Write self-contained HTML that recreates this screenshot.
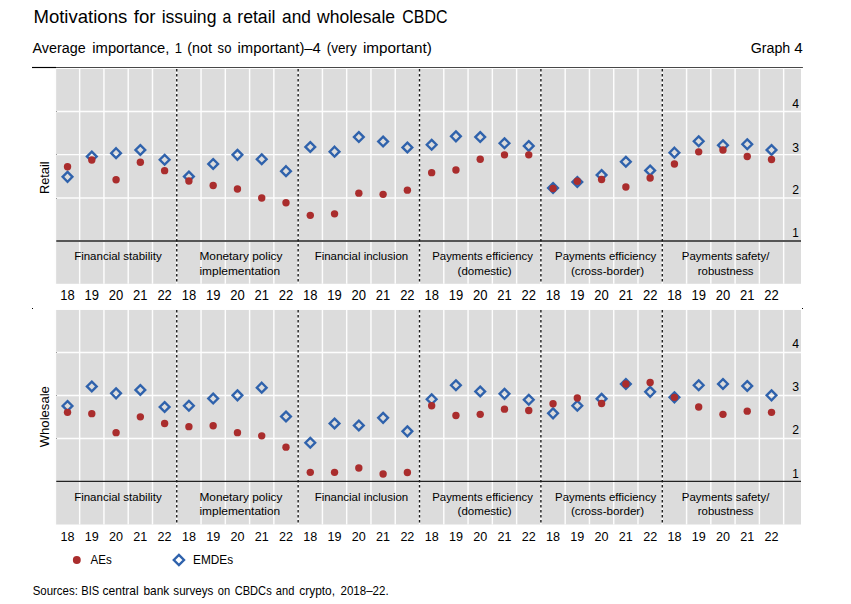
<!DOCTYPE html>
<html><head><meta charset="utf-8"><title>Graph 4</title>
<style>html,body{margin:0;padding:0;background:#fff;}svg{display:block;font-family:"Liberation Sans",sans-serif;}</style>
</head><body>
<svg width="851" height="604" viewBox="0 0 851 604">
<rect x="0" y="0" width="851" height="604" fill="#fff"/>
<text x="33.45" y="22.70" font-size="18.5" textLength="93.79" lengthAdjust="spacingAndGlyphs" fill="#000" >Motivations</text>
<text x="133.75" y="22.70" font-size="18.5" textLength="21.70" lengthAdjust="spacingAndGlyphs" fill="#000" >for</text>
<text x="161.65" y="22.70" font-size="18.5" textLength="54.80" lengthAdjust="spacingAndGlyphs" fill="#000" >issuing</text>
<text x="222.57" y="22.70" font-size="18.5" textLength="8.85" lengthAdjust="spacingAndGlyphs" fill="#000" >a</text>
<text x="237.25" y="22.70" font-size="18.5" textLength="38.29" lengthAdjust="spacingAndGlyphs" fill="#000" >retail</text>
<text x="282.05" y="22.70" font-size="18.5" textLength="28.91" lengthAdjust="spacingAndGlyphs" fill="#000" >and</text>
<text x="316.99" y="22.70" font-size="18.5" textLength="78.07" lengthAdjust="spacingAndGlyphs" fill="#000" >wholesale</text>
<text x="402.25" y="22.70" font-size="18.5" textLength="45.19" lengthAdjust="spacingAndGlyphs" fill="#000" >CBDC</text>
<text x="32.45" y="52.70" font-size="15.2" textLength="53.19" lengthAdjust="spacingAndGlyphs" fill="#000" >Average</text>
<text x="92.35" y="52.70" font-size="15.2" textLength="77.09" lengthAdjust="spacingAndGlyphs" fill="#000" >importance,</text>
<text x="174.87" y="52.70" font-size="15.2" textLength="7.27" lengthAdjust="spacingAndGlyphs" fill="#000" >1</text>
<text x="187.25" y="52.70" font-size="15.2" textLength="24.60" lengthAdjust="spacingAndGlyphs" fill="#000" >(not</text>
<text x="217.60" y="52.70" font-size="15.2" textLength="13.81" lengthAdjust="spacingAndGlyphs" fill="#000" >so</text>
<text x="237.55" y="52.70" font-size="15.2" textLength="83.30" lengthAdjust="spacingAndGlyphs" fill="#000" >important)–4</text>
<text x="326.75" y="52.70" font-size="15.2" textLength="30.00" lengthAdjust="spacingAndGlyphs" fill="#000" >(very</text>
<text x="362.95" y="52.70" font-size="15.2" textLength="68.79" lengthAdjust="spacingAndGlyphs" fill="#000" >important)</text>
<text x="750.65" y="52.60" font-size="15.2" textLength="39.60" lengthAdjust="spacingAndGlyphs" fill="#000" >Graph</text>
<text x="794.35" y="52.60" font-size="15.2" textLength="8.50" lengthAdjust="spacingAndGlyphs" fill="#000" >4</text>
<rect x="56.080000000000005" y="68.95" width="744.92" height="214.85000000000002" fill="#dcdcdc"/>
<line x1="55.38" x2="801.0" y1="111.4" y2="111.4" stroke="#fdfdfd" stroke-width="1.45"/>
<line x1="55.38" x2="801.0" y1="154.6" y2="154.6" stroke="#fdfdfd" stroke-width="1.45"/>
<line x1="55.38" x2="801.0" y1="198.0" y2="198.0" stroke="#fdfdfd" stroke-width="1.45"/>
<line x1="55.38" x2="55.38" y1="68.95" y2="283.8" stroke="#fdfdfd" stroke-width="1.45"/>
<line x1="79.66" x2="79.66" y1="68.95" y2="283.8" stroke="#fdfdfd" stroke-width="1.45"/>
<line x1="103.93" x2="103.93" y1="68.95" y2="283.8" stroke="#fdfdfd" stroke-width="1.45"/>
<line x1="128.21" x2="128.21" y1="68.95" y2="283.8" stroke="#fdfdfd" stroke-width="1.45"/>
<line x1="152.48" x2="152.48" y1="68.95" y2="283.8" stroke="#fdfdfd" stroke-width="1.45"/>
<line x1="176.76" x2="176.76" y1="68.95" y2="283.8" stroke="#fdfdfd" stroke-width="1.45"/>
<line x1="201.04" x2="201.04" y1="68.95" y2="283.8" stroke="#fdfdfd" stroke-width="1.45"/>
<line x1="225.31" x2="225.31" y1="68.95" y2="283.8" stroke="#fdfdfd" stroke-width="1.45"/>
<line x1="249.59" x2="249.59" y1="68.95" y2="283.8" stroke="#fdfdfd" stroke-width="1.45"/>
<line x1="273.86" x2="273.86" y1="68.95" y2="283.8" stroke="#fdfdfd" stroke-width="1.45"/>
<line x1="298.14" x2="298.14" y1="68.95" y2="283.8" stroke="#fdfdfd" stroke-width="1.45"/>
<line x1="322.42" x2="322.42" y1="68.95" y2="283.8" stroke="#fdfdfd" stroke-width="1.45"/>
<line x1="346.69" x2="346.69" y1="68.95" y2="283.8" stroke="#fdfdfd" stroke-width="1.45"/>
<line x1="370.97" x2="370.97" y1="68.95" y2="283.8" stroke="#fdfdfd" stroke-width="1.45"/>
<line x1="395.24" x2="395.24" y1="68.95" y2="283.8" stroke="#fdfdfd" stroke-width="1.45"/>
<line x1="419.52" x2="419.52" y1="68.95" y2="283.8" stroke="#fdfdfd" stroke-width="1.45"/>
<line x1="443.80" x2="443.80" y1="68.95" y2="283.8" stroke="#fdfdfd" stroke-width="1.45"/>
<line x1="468.07" x2="468.07" y1="68.95" y2="283.8" stroke="#fdfdfd" stroke-width="1.45"/>
<line x1="492.35" x2="492.35" y1="68.95" y2="283.8" stroke="#fdfdfd" stroke-width="1.45"/>
<line x1="516.62" x2="516.62" y1="68.95" y2="283.8" stroke="#fdfdfd" stroke-width="1.45"/>
<line x1="540.90" x2="540.90" y1="68.95" y2="283.8" stroke="#fdfdfd" stroke-width="1.45"/>
<line x1="565.18" x2="565.18" y1="68.95" y2="283.8" stroke="#fdfdfd" stroke-width="1.45"/>
<line x1="589.45" x2="589.45" y1="68.95" y2="283.8" stroke="#fdfdfd" stroke-width="1.45"/>
<line x1="613.73" x2="613.73" y1="68.95" y2="283.8" stroke="#fdfdfd" stroke-width="1.45"/>
<line x1="638.00" x2="638.00" y1="68.95" y2="283.8" stroke="#fdfdfd" stroke-width="1.45"/>
<line x1="662.28" x2="662.28" y1="68.95" y2="283.8" stroke="#fdfdfd" stroke-width="1.45"/>
<line x1="686.56" x2="686.56" y1="68.95" y2="283.8" stroke="#fdfdfd" stroke-width="1.45"/>
<line x1="710.83" x2="710.83" y1="68.95" y2="283.8" stroke="#fdfdfd" stroke-width="1.45"/>
<line x1="735.11" x2="735.11" y1="68.95" y2="283.8" stroke="#fdfdfd" stroke-width="1.45"/>
<line x1="759.38" x2="759.38" y1="68.95" y2="283.8" stroke="#fdfdfd" stroke-width="1.45"/>
<line x1="783.66" x2="783.66" y1="68.95" y2="283.8" stroke="#fdfdfd" stroke-width="1.45"/>
<rect x="56" y="111" width="1" height="1" fill="#9a9a9a"/>
<rect x="56" y="154" width="1" height="1" fill="#9a9a9a"/>
<rect x="56" y="198" width="1" height="1" fill="#9a9a9a"/>
<line x1="56.28" x2="801.0" y1="241.0" y2="241.0" stroke="#555" stroke-width="2.1"/>
<line x1="176.76" x2="176.76" y1="68.9" y2="284.1" stroke="#1a1a1a" stroke-width="1.4" stroke-dasharray="2.7 2.3"/>
<line x1="298.14" x2="298.14" y1="68.9" y2="284.1" stroke="#1a1a1a" stroke-width="1.4" stroke-dasharray="2.7 2.3"/>
<line x1="419.52" x2="419.52" y1="68.9" y2="284.1" stroke="#1a1a1a" stroke-width="1.4" stroke-dasharray="2.7 2.3"/>
<line x1="540.90" x2="540.90" y1="68.9" y2="284.1" stroke="#1a1a1a" stroke-width="1.4" stroke-dasharray="2.7 2.3"/>
<line x1="662.28" x2="662.28" y1="68.9" y2="284.1" stroke="#1a1a1a" stroke-width="1.4" stroke-dasharray="2.7 2.3"/>
<text x="792.35" y="108.20" font-size="13.6" textLength="6.80" lengthAdjust="spacingAndGlyphs" fill="#000" >4</text>
<text x="792.35" y="151.60" font-size="13.6" textLength="6.80" lengthAdjust="spacingAndGlyphs" fill="#000" >3</text>
<text x="792.35" y="193.80" font-size="13.6" textLength="6.80" lengthAdjust="spacingAndGlyphs" fill="#000" >2</text>
<text x="792.15" y="237.20" font-size="13.6" textLength="6.50" lengthAdjust="spacingAndGlyphs" fill="#000" >1</text>
<text x="74.15" y="260.20" font-size="11.5" textLength="87.60" lengthAdjust="spacingAndGlyphs" fill="#000" >Financial stability</text>
<text x="199.45" y="260.20" font-size="11.5" textLength="83.00" lengthAdjust="spacingAndGlyphs" fill="#000" >Monetary policy</text>
<text x="199.45" y="274.80" font-size="11.5" textLength="80.80" lengthAdjust="spacingAndGlyphs" fill="#000" >implementation</text>
<text x="314.65" y="260.20" font-size="11.5" textLength="93.60" lengthAdjust="spacingAndGlyphs" fill="#000" >Financial inclusion</text>
<text x="432.25" y="260.20" font-size="11.5" textLength="100.69" lengthAdjust="spacingAndGlyphs" fill="#000" >Payments efficiency</text>
<text x="457.55" y="274.80" font-size="11.5" textLength="53.99" lengthAdjust="spacingAndGlyphs" fill="#000" >(domestic)</text>
<text x="555.05" y="260.20" font-size="11.5" textLength="101.29" lengthAdjust="spacingAndGlyphs" fill="#000" >Payments efficiency</text>
<text x="570.95" y="274.80" font-size="11.5" textLength="73.20" lengthAdjust="spacingAndGlyphs" fill="#000" >(cross-border)</text>
<text x="681.85" y="260.20" font-size="11.5" textLength="87.50" lengthAdjust="spacingAndGlyphs" fill="#000" >Payments safety/</text>
<text x="697.75" y="274.80" font-size="11.5" textLength="55.80" lengthAdjust="spacingAndGlyphs" fill="#000" >robustness</text>
<text x="60.28" y="299.8" font-size="13.85" textLength="14.48" lengthAdjust="spacingAndGlyphs" fill="#000">18</text>
<text x="84.56" y="299.8" font-size="13.85" textLength="14.48" lengthAdjust="spacingAndGlyphs" fill="#000">19</text>
<text x="108.83" y="299.8" font-size="13.85" textLength="14.48" lengthAdjust="spacingAndGlyphs" fill="#000">20</text>
<text x="133.11" y="299.8" font-size="13.85" textLength="14.48" lengthAdjust="spacingAndGlyphs" fill="#000">21</text>
<text x="157.38" y="299.8" font-size="13.85" textLength="14.48" lengthAdjust="spacingAndGlyphs" fill="#000">22</text>
<text x="181.66" y="299.8" font-size="13.85" textLength="14.48" lengthAdjust="spacingAndGlyphs" fill="#000">18</text>
<text x="205.94" y="299.8" font-size="13.85" textLength="14.48" lengthAdjust="spacingAndGlyphs" fill="#000">19</text>
<text x="230.21" y="299.8" font-size="13.85" textLength="14.48" lengthAdjust="spacingAndGlyphs" fill="#000">20</text>
<text x="254.49" y="299.8" font-size="13.85" textLength="14.48" lengthAdjust="spacingAndGlyphs" fill="#000">21</text>
<text x="278.76" y="299.8" font-size="13.85" textLength="14.48" lengthAdjust="spacingAndGlyphs" fill="#000">22</text>
<text x="303.04" y="299.8" font-size="13.85" textLength="14.48" lengthAdjust="spacingAndGlyphs" fill="#000">18</text>
<text x="327.32" y="299.8" font-size="13.85" textLength="14.48" lengthAdjust="spacingAndGlyphs" fill="#000">19</text>
<text x="351.59" y="299.8" font-size="13.85" textLength="14.48" lengthAdjust="spacingAndGlyphs" fill="#000">20</text>
<text x="375.87" y="299.8" font-size="13.85" textLength="14.48" lengthAdjust="spacingAndGlyphs" fill="#000">21</text>
<text x="400.14" y="299.8" font-size="13.85" textLength="14.48" lengthAdjust="spacingAndGlyphs" fill="#000">22</text>
<text x="424.42" y="299.8" font-size="13.85" textLength="14.48" lengthAdjust="spacingAndGlyphs" fill="#000">18</text>
<text x="448.70" y="299.8" font-size="13.85" textLength="14.48" lengthAdjust="spacingAndGlyphs" fill="#000">19</text>
<text x="472.97" y="299.8" font-size="13.85" textLength="14.48" lengthAdjust="spacingAndGlyphs" fill="#000">20</text>
<text x="497.25" y="299.8" font-size="13.85" textLength="14.48" lengthAdjust="spacingAndGlyphs" fill="#000">21</text>
<text x="521.52" y="299.8" font-size="13.85" textLength="14.48" lengthAdjust="spacingAndGlyphs" fill="#000">22</text>
<text x="545.80" y="299.8" font-size="13.85" textLength="14.48" lengthAdjust="spacingAndGlyphs" fill="#000">18</text>
<text x="570.08" y="299.8" font-size="13.85" textLength="14.48" lengthAdjust="spacingAndGlyphs" fill="#000">19</text>
<text x="594.35" y="299.8" font-size="13.85" textLength="14.48" lengthAdjust="spacingAndGlyphs" fill="#000">20</text>
<text x="618.63" y="299.8" font-size="13.85" textLength="14.48" lengthAdjust="spacingAndGlyphs" fill="#000">21</text>
<text x="642.90" y="299.8" font-size="13.85" textLength="14.48" lengthAdjust="spacingAndGlyphs" fill="#000">22</text>
<text x="667.18" y="299.8" font-size="13.85" textLength="14.48" lengthAdjust="spacingAndGlyphs" fill="#000">18</text>
<text x="691.46" y="299.8" font-size="13.85" textLength="14.48" lengthAdjust="spacingAndGlyphs" fill="#000">19</text>
<text x="715.73" y="299.8" font-size="13.85" textLength="14.48" lengthAdjust="spacingAndGlyphs" fill="#000">20</text>
<text x="740.01" y="299.8" font-size="13.85" textLength="14.48" lengthAdjust="spacingAndGlyphs" fill="#000">21</text>
<text x="764.28" y="299.8" font-size="13.85" textLength="14.48" lengthAdjust="spacingAndGlyphs" fill="#000">22</text>
<path d="M67.52 171.95L72.42 176.85L67.52 181.75L62.62 176.85Z" fill="none" stroke="#2f62ac" stroke-width="2.35"/>
<path d="M91.79 151.65L96.69 156.55L91.79 161.45L86.89 156.55Z" fill="none" stroke="#2f62ac" stroke-width="2.35"/>
<path d="M116.07 148.25L120.97 153.15L116.07 158.05L111.17 153.15Z" fill="none" stroke="#2f62ac" stroke-width="2.35"/>
<path d="M140.35 145.05L145.25 149.95L140.35 154.85L135.45 149.95Z" fill="none" stroke="#2f62ac" stroke-width="2.35"/>
<path d="M164.62 154.85L169.52 159.75L164.62 164.65L159.72 159.75Z" fill="none" stroke="#2f62ac" stroke-width="2.35"/>
<path d="M188.90 171.65L193.80 176.55L188.90 181.45L184.00 176.55Z" fill="none" stroke="#2f62ac" stroke-width="2.35"/>
<path d="M213.17 159.05L218.07 163.95L213.17 168.85L208.27 163.95Z" fill="none" stroke="#2f62ac" stroke-width="2.35"/>
<path d="M237.45 149.95L242.35 154.85L237.45 159.75L232.55 154.85Z" fill="none" stroke="#2f62ac" stroke-width="2.35"/>
<path d="M261.73 154.35L266.63 159.25L261.73 164.15L256.83 159.25Z" fill="none" stroke="#2f62ac" stroke-width="2.35"/>
<path d="M286.00 166.25L290.90 171.15L286.00 176.05L281.10 171.15Z" fill="none" stroke="#2f62ac" stroke-width="2.35"/>
<path d="M310.28 142.05L315.18 146.95L310.28 151.85L305.38 146.95Z" fill="none" stroke="#2f62ac" stroke-width="2.35"/>
<path d="M334.55 146.75L339.45 151.65L334.55 156.55L329.65 151.65Z" fill="none" stroke="#2f62ac" stroke-width="2.35"/>
<path d="M358.83 132.15L363.73 137.05L358.83 141.95L353.93 137.05Z" fill="none" stroke="#2f62ac" stroke-width="2.35"/>
<path d="M383.11 136.65L388.01 141.55L383.11 146.45L378.21 141.55Z" fill="none" stroke="#2f62ac" stroke-width="2.35"/>
<path d="M407.38 142.55L412.28 147.45L407.38 152.35L402.48 147.45Z" fill="none" stroke="#2f62ac" stroke-width="2.35"/>
<path d="M431.66 139.85L436.56 144.75L431.66 149.65L426.76 144.75Z" fill="none" stroke="#2f62ac" stroke-width="2.35"/>
<path d="M455.93 131.45L460.83 136.35L455.93 141.25L451.03 136.35Z" fill="none" stroke="#2f62ac" stroke-width="2.35"/>
<path d="M480.21 132.15L485.11 137.05L480.21 141.95L475.31 137.05Z" fill="none" stroke="#2f62ac" stroke-width="2.35"/>
<path d="M504.49 138.35L509.39 143.25L504.49 148.15L499.59 143.25Z" fill="none" stroke="#2f62ac" stroke-width="2.35"/>
<path d="M528.76 141.05L533.66 145.95L528.76 150.85L523.86 145.95Z" fill="none" stroke="#2f62ac" stroke-width="2.35"/>
<path d="M553.04 183.05L557.94 187.95L553.04 192.85L548.14 187.95Z" fill="none" stroke="#2f62ac" stroke-width="2.35"/>
<path d="M577.31 177.15L582.21 182.05L577.31 186.95L572.41 182.05Z" fill="none" stroke="#2f62ac" stroke-width="2.35"/>
<path d="M601.59 170.15L606.49 175.05L601.59 179.95L596.69 175.05Z" fill="none" stroke="#2f62ac" stroke-width="2.35"/>
<path d="M625.87 156.85L630.77 161.75L625.87 166.65L620.97 161.75Z" fill="none" stroke="#2f62ac" stroke-width="2.35"/>
<path d="M650.14 165.55L655.04 170.45L650.14 175.35L645.24 170.45Z" fill="none" stroke="#2f62ac" stroke-width="2.35"/>
<path d="M674.42 147.75L679.32 152.65L674.42 157.55L669.52 152.65Z" fill="none" stroke="#2f62ac" stroke-width="2.35"/>
<path d="M698.69 136.35L703.59 141.25L698.69 146.15L693.79 141.25Z" fill="none" stroke="#2f62ac" stroke-width="2.35"/>
<path d="M722.97 140.35L727.87 145.25L722.97 150.15L718.07 145.25Z" fill="none" stroke="#2f62ac" stroke-width="2.35"/>
<path d="M747.25 139.35L752.15 144.25L747.25 149.15L742.35 144.25Z" fill="none" stroke="#2f62ac" stroke-width="2.35"/>
<path d="M771.52 145.05L776.42 149.95L771.52 154.85L766.62 149.95Z" fill="none" stroke="#2f62ac" stroke-width="2.35"/>
<circle cx="67.52" cy="166.75" r="3.7" fill="#aa2d2d"/>
<circle cx="91.79" cy="160.05" r="3.7" fill="#aa2d2d"/>
<circle cx="116.07" cy="179.75" r="3.7" fill="#aa2d2d"/>
<circle cx="140.35" cy="162.25" r="3.7" fill="#aa2d2d"/>
<circle cx="164.62" cy="170.65" r="3.7" fill="#aa2d2d"/>
<circle cx="188.90" cy="181.05" r="3.7" fill="#aa2d2d"/>
<circle cx="213.17" cy="185.45" r="3.7" fill="#aa2d2d"/>
<circle cx="237.45" cy="188.95" r="3.7" fill="#aa2d2d"/>
<circle cx="261.73" cy="198.05" r="3.7" fill="#aa2d2d"/>
<circle cx="286.00" cy="202.75" r="3.7" fill="#aa2d2d"/>
<circle cx="310.28" cy="215.35" r="3.7" fill="#aa2d2d"/>
<circle cx="334.55" cy="213.85" r="3.7" fill="#aa2d2d"/>
<circle cx="358.83" cy="193.15" r="3.7" fill="#aa2d2d"/>
<circle cx="383.11" cy="194.35" r="3.7" fill="#aa2d2d"/>
<circle cx="407.38" cy="190.15" r="3.7" fill="#aa2d2d"/>
<circle cx="431.66" cy="172.65" r="3.7" fill="#aa2d2d"/>
<circle cx="455.93" cy="169.95" r="3.7" fill="#aa2d2d"/>
<circle cx="480.21" cy="159.25" r="3.7" fill="#aa2d2d"/>
<circle cx="504.49" cy="154.85" r="3.7" fill="#aa2d2d"/>
<circle cx="528.76" cy="154.85" r="3.7" fill="#aa2d2d"/>
<circle cx="553.04" cy="188.45" r="3.7" fill="#aa2d2d"/>
<circle cx="577.31" cy="181.25" r="3.7" fill="#aa2d2d"/>
<circle cx="601.59" cy="179.55" r="3.7" fill="#aa2d2d"/>
<circle cx="625.87" cy="186.95" r="3.7" fill="#aa2d2d"/>
<circle cx="650.14" cy="178.05" r="3.7" fill="#aa2d2d"/>
<circle cx="674.42" cy="163.95" r="3.7" fill="#aa2d2d"/>
<circle cx="698.69" cy="151.85" r="3.7" fill="#aa2d2d"/>
<circle cx="722.97" cy="149.95" r="3.7" fill="#aa2d2d"/>
<circle cx="747.25" cy="156.55" r="3.7" fill="#aa2d2d"/>
<circle cx="771.52" cy="159.55" r="3.7" fill="#aa2d2d"/>
<rect x="56.080000000000005" y="309.95" width="744.92" height="214.55" fill="#dcdcdc"/>
<line x1="55.38" x2="801.0" y1="352.4" y2="352.4" stroke="#fdfdfd" stroke-width="1.45"/>
<line x1="55.38" x2="801.0" y1="395.5" y2="395.5" stroke="#fdfdfd" stroke-width="1.45"/>
<line x1="55.38" x2="801.0" y1="438.5" y2="438.5" stroke="#fdfdfd" stroke-width="1.45"/>
<line x1="55.38" x2="55.38" y1="309.95" y2="524.5" stroke="#fdfdfd" stroke-width="1.45"/>
<line x1="79.66" x2="79.66" y1="309.95" y2="524.5" stroke="#fdfdfd" stroke-width="1.45"/>
<line x1="103.93" x2="103.93" y1="309.95" y2="524.5" stroke="#fdfdfd" stroke-width="1.45"/>
<line x1="128.21" x2="128.21" y1="309.95" y2="524.5" stroke="#fdfdfd" stroke-width="1.45"/>
<line x1="152.48" x2="152.48" y1="309.95" y2="524.5" stroke="#fdfdfd" stroke-width="1.45"/>
<line x1="176.76" x2="176.76" y1="309.95" y2="524.5" stroke="#fdfdfd" stroke-width="1.45"/>
<line x1="201.04" x2="201.04" y1="309.95" y2="524.5" stroke="#fdfdfd" stroke-width="1.45"/>
<line x1="225.31" x2="225.31" y1="309.95" y2="524.5" stroke="#fdfdfd" stroke-width="1.45"/>
<line x1="249.59" x2="249.59" y1="309.95" y2="524.5" stroke="#fdfdfd" stroke-width="1.45"/>
<line x1="273.86" x2="273.86" y1="309.95" y2="524.5" stroke="#fdfdfd" stroke-width="1.45"/>
<line x1="298.14" x2="298.14" y1="309.95" y2="524.5" stroke="#fdfdfd" stroke-width="1.45"/>
<line x1="322.42" x2="322.42" y1="309.95" y2="524.5" stroke="#fdfdfd" stroke-width="1.45"/>
<line x1="346.69" x2="346.69" y1="309.95" y2="524.5" stroke="#fdfdfd" stroke-width="1.45"/>
<line x1="370.97" x2="370.97" y1="309.95" y2="524.5" stroke="#fdfdfd" stroke-width="1.45"/>
<line x1="395.24" x2="395.24" y1="309.95" y2="524.5" stroke="#fdfdfd" stroke-width="1.45"/>
<line x1="419.52" x2="419.52" y1="309.95" y2="524.5" stroke="#fdfdfd" stroke-width="1.45"/>
<line x1="443.80" x2="443.80" y1="309.95" y2="524.5" stroke="#fdfdfd" stroke-width="1.45"/>
<line x1="468.07" x2="468.07" y1="309.95" y2="524.5" stroke="#fdfdfd" stroke-width="1.45"/>
<line x1="492.35" x2="492.35" y1="309.95" y2="524.5" stroke="#fdfdfd" stroke-width="1.45"/>
<line x1="516.62" x2="516.62" y1="309.95" y2="524.5" stroke="#fdfdfd" stroke-width="1.45"/>
<line x1="540.90" x2="540.90" y1="309.95" y2="524.5" stroke="#fdfdfd" stroke-width="1.45"/>
<line x1="565.18" x2="565.18" y1="309.95" y2="524.5" stroke="#fdfdfd" stroke-width="1.45"/>
<line x1="589.45" x2="589.45" y1="309.95" y2="524.5" stroke="#fdfdfd" stroke-width="1.45"/>
<line x1="613.73" x2="613.73" y1="309.95" y2="524.5" stroke="#fdfdfd" stroke-width="1.45"/>
<line x1="638.00" x2="638.00" y1="309.95" y2="524.5" stroke="#fdfdfd" stroke-width="1.45"/>
<line x1="662.28" x2="662.28" y1="309.95" y2="524.5" stroke="#fdfdfd" stroke-width="1.45"/>
<line x1="686.56" x2="686.56" y1="309.95" y2="524.5" stroke="#fdfdfd" stroke-width="1.45"/>
<line x1="710.83" x2="710.83" y1="309.95" y2="524.5" stroke="#fdfdfd" stroke-width="1.45"/>
<line x1="735.11" x2="735.11" y1="309.95" y2="524.5" stroke="#fdfdfd" stroke-width="1.45"/>
<line x1="759.38" x2="759.38" y1="309.95" y2="524.5" stroke="#fdfdfd" stroke-width="1.45"/>
<line x1="783.66" x2="783.66" y1="309.95" y2="524.5" stroke="#fdfdfd" stroke-width="1.45"/>
<rect x="56" y="352" width="1" height="1" fill="#9a9a9a"/>
<rect x="56" y="395" width="1" height="1" fill="#9a9a9a"/>
<rect x="56" y="438" width="1" height="1" fill="#9a9a9a"/>
<line x1="56.28" x2="801.0" y1="481.4" y2="481.4" stroke="#222" stroke-width="1.4"/>
<line x1="176.76" x2="176.76" y1="309.9" y2="524.8" stroke="#1a1a1a" stroke-width="1.4" stroke-dasharray="2.7 2.3"/>
<line x1="298.14" x2="298.14" y1="309.9" y2="524.8" stroke="#1a1a1a" stroke-width="1.4" stroke-dasharray="2.7 2.3"/>
<line x1="419.52" x2="419.52" y1="309.9" y2="524.8" stroke="#1a1a1a" stroke-width="1.4" stroke-dasharray="2.7 2.3"/>
<line x1="540.90" x2="540.90" y1="309.9" y2="524.8" stroke="#1a1a1a" stroke-width="1.4" stroke-dasharray="2.7 2.3"/>
<line x1="662.28" x2="662.28" y1="309.9" y2="524.8" stroke="#1a1a1a" stroke-width="1.4" stroke-dasharray="2.7 2.3"/>
<text x="792.35" y="348.20" font-size="13.6" textLength="6.80" lengthAdjust="spacingAndGlyphs" fill="#000" >4</text>
<text x="792.35" y="391.30" font-size="13.6" textLength="6.80" lengthAdjust="spacingAndGlyphs" fill="#000" >3</text>
<text x="792.35" y="434.30" font-size="13.6" textLength="6.80" lengthAdjust="spacingAndGlyphs" fill="#000" >2</text>
<text x="792.15" y="477.60" font-size="13.6" textLength="6.50" lengthAdjust="spacingAndGlyphs" fill="#000" >1</text>
<text x="74.15" y="501.40" font-size="11.5" textLength="87.60" lengthAdjust="spacingAndGlyphs" fill="#000" >Financial stability</text>
<text x="199.45" y="501.40" font-size="11.5" textLength="83.00" lengthAdjust="spacingAndGlyphs" fill="#000" >Monetary policy</text>
<text x="199.45" y="515.10" font-size="11.5" textLength="80.80" lengthAdjust="spacingAndGlyphs" fill="#000" >implementation</text>
<text x="314.65" y="501.40" font-size="11.5" textLength="93.60" lengthAdjust="spacingAndGlyphs" fill="#000" >Financial inclusion</text>
<text x="432.25" y="501.40" font-size="11.5" textLength="100.69" lengthAdjust="spacingAndGlyphs" fill="#000" >Payments efficiency</text>
<text x="457.55" y="515.10" font-size="11.5" textLength="53.99" lengthAdjust="spacingAndGlyphs" fill="#000" >(domestic)</text>
<text x="555.05" y="501.40" font-size="11.5" textLength="101.29" lengthAdjust="spacingAndGlyphs" fill="#000" >Payments efficiency</text>
<text x="570.95" y="515.10" font-size="11.5" textLength="73.20" lengthAdjust="spacingAndGlyphs" fill="#000" >(cross-border)</text>
<text x="681.85" y="501.40" font-size="11.5" textLength="87.50" lengthAdjust="spacingAndGlyphs" fill="#000" >Payments safety/</text>
<text x="697.75" y="515.10" font-size="11.5" textLength="55.80" lengthAdjust="spacingAndGlyphs" fill="#000" >robustness</text>
<text x="60.51" y="540.9" font-size="13.4" textLength="14.01" lengthAdjust="spacingAndGlyphs" fill="#000">18</text>
<text x="84.79" y="540.9" font-size="13.4" textLength="14.01" lengthAdjust="spacingAndGlyphs" fill="#000">19</text>
<text x="109.07" y="540.9" font-size="13.4" textLength="14.01" lengthAdjust="spacingAndGlyphs" fill="#000">20</text>
<text x="133.34" y="540.9" font-size="13.4" textLength="14.01" lengthAdjust="spacingAndGlyphs" fill="#000">21</text>
<text x="157.62" y="540.9" font-size="13.4" textLength="14.01" lengthAdjust="spacingAndGlyphs" fill="#000">22</text>
<text x="181.89" y="540.9" font-size="13.4" textLength="14.01" lengthAdjust="spacingAndGlyphs" fill="#000">18</text>
<text x="206.17" y="540.9" font-size="13.4" textLength="14.01" lengthAdjust="spacingAndGlyphs" fill="#000">19</text>
<text x="230.45" y="540.9" font-size="13.4" textLength="14.01" lengthAdjust="spacingAndGlyphs" fill="#000">20</text>
<text x="254.72" y="540.9" font-size="13.4" textLength="14.01" lengthAdjust="spacingAndGlyphs" fill="#000">21</text>
<text x="279.00" y="540.9" font-size="13.4" textLength="14.01" lengthAdjust="spacingAndGlyphs" fill="#000">22</text>
<text x="303.27" y="540.9" font-size="13.4" textLength="14.01" lengthAdjust="spacingAndGlyphs" fill="#000">18</text>
<text x="327.55" y="540.9" font-size="13.4" textLength="14.01" lengthAdjust="spacingAndGlyphs" fill="#000">19</text>
<text x="351.83" y="540.9" font-size="13.4" textLength="14.01" lengthAdjust="spacingAndGlyphs" fill="#000">20</text>
<text x="376.10" y="540.9" font-size="13.4" textLength="14.01" lengthAdjust="spacingAndGlyphs" fill="#000">21</text>
<text x="400.38" y="540.9" font-size="13.4" textLength="14.01" lengthAdjust="spacingAndGlyphs" fill="#000">22</text>
<text x="424.65" y="540.9" font-size="13.4" textLength="14.01" lengthAdjust="spacingAndGlyphs" fill="#000">18</text>
<text x="448.93" y="540.9" font-size="13.4" textLength="14.01" lengthAdjust="spacingAndGlyphs" fill="#000">19</text>
<text x="473.21" y="540.9" font-size="13.4" textLength="14.01" lengthAdjust="spacingAndGlyphs" fill="#000">20</text>
<text x="497.48" y="540.9" font-size="13.4" textLength="14.01" lengthAdjust="spacingAndGlyphs" fill="#000">21</text>
<text x="521.76" y="540.9" font-size="13.4" textLength="14.01" lengthAdjust="spacingAndGlyphs" fill="#000">22</text>
<text x="546.03" y="540.9" font-size="13.4" textLength="14.01" lengthAdjust="spacingAndGlyphs" fill="#000">18</text>
<text x="570.31" y="540.9" font-size="13.4" textLength="14.01" lengthAdjust="spacingAndGlyphs" fill="#000">19</text>
<text x="594.59" y="540.9" font-size="13.4" textLength="14.01" lengthAdjust="spacingAndGlyphs" fill="#000">20</text>
<text x="618.86" y="540.9" font-size="13.4" textLength="14.01" lengthAdjust="spacingAndGlyphs" fill="#000">21</text>
<text x="643.14" y="540.9" font-size="13.4" textLength="14.01" lengthAdjust="spacingAndGlyphs" fill="#000">22</text>
<text x="667.41" y="540.9" font-size="13.4" textLength="14.01" lengthAdjust="spacingAndGlyphs" fill="#000">18</text>
<text x="691.69" y="540.9" font-size="13.4" textLength="14.01" lengthAdjust="spacingAndGlyphs" fill="#000">19</text>
<text x="715.97" y="540.9" font-size="13.4" textLength="14.01" lengthAdjust="spacingAndGlyphs" fill="#000">20</text>
<text x="740.24" y="540.9" font-size="13.4" textLength="14.01" lengthAdjust="spacingAndGlyphs" fill="#000">21</text>
<text x="764.52" y="540.9" font-size="13.4" textLength="14.01" lengthAdjust="spacingAndGlyphs" fill="#000">22</text>
<path d="M67.52 401.05L72.42 405.95L67.52 410.85L62.62 405.95Z" fill="none" stroke="#2f62ac" stroke-width="2.35"/>
<path d="M91.79 381.55L96.69 386.45L91.79 391.35L86.89 386.45Z" fill="none" stroke="#2f62ac" stroke-width="2.35"/>
<path d="M116.07 388.45L120.97 393.35L116.07 398.25L111.17 393.35Z" fill="none" stroke="#2f62ac" stroke-width="2.35"/>
<path d="M140.35 385.05L145.25 389.95L140.35 394.85L135.45 389.95Z" fill="none" stroke="#2f62ac" stroke-width="2.35"/>
<path d="M164.62 402.05L169.52 406.95L164.62 411.85L159.72 406.95Z" fill="none" stroke="#2f62ac" stroke-width="2.35"/>
<path d="M188.90 400.85L193.80 405.75L188.90 410.65L184.00 405.75Z" fill="none" stroke="#2f62ac" stroke-width="2.35"/>
<path d="M213.17 393.65L218.07 398.55L213.17 403.45L208.27 398.55Z" fill="none" stroke="#2f62ac" stroke-width="2.35"/>
<path d="M237.45 390.45L242.35 395.35L237.45 400.25L232.55 395.35Z" fill="none" stroke="#2f62ac" stroke-width="2.35"/>
<path d="M261.73 382.75L266.63 387.65L261.73 392.55L256.83 387.65Z" fill="none" stroke="#2f62ac" stroke-width="2.35"/>
<path d="M286.00 411.65L290.90 416.55L286.00 421.45L281.10 416.55Z" fill="none" stroke="#2f62ac" stroke-width="2.35"/>
<path d="M310.28 437.85L315.18 442.75L310.28 447.65L305.38 442.75Z" fill="none" stroke="#2f62ac" stroke-width="2.35"/>
<path d="M334.55 418.55L339.45 423.45L334.55 428.35L329.65 423.45Z" fill="none" stroke="#2f62ac" stroke-width="2.35"/>
<path d="M358.83 420.55L363.73 425.45L358.83 430.35L353.93 425.45Z" fill="none" stroke="#2f62ac" stroke-width="2.35"/>
<path d="M383.11 412.95L388.01 417.85L383.11 422.75L378.21 417.85Z" fill="none" stroke="#2f62ac" stroke-width="2.35"/>
<path d="M407.38 426.45L412.28 431.35L407.38 436.25L402.48 431.35Z" fill="none" stroke="#2f62ac" stroke-width="2.35"/>
<path d="M431.66 394.35L436.56 399.25L431.66 404.15L426.76 399.25Z" fill="none" stroke="#2f62ac" stroke-width="2.35"/>
<path d="M455.93 380.35L460.83 385.25L455.93 390.15L451.03 385.25Z" fill="none" stroke="#2f62ac" stroke-width="2.35"/>
<path d="M480.21 386.55L485.11 391.45L480.21 396.35L475.31 391.45Z" fill="none" stroke="#2f62ac" stroke-width="2.35"/>
<path d="M504.49 388.95L509.39 393.85L504.49 398.75L499.59 393.85Z" fill="none" stroke="#2f62ac" stroke-width="2.35"/>
<path d="M528.76 394.85L533.66 399.75L528.76 404.65L523.86 399.75Z" fill="none" stroke="#2f62ac" stroke-width="2.35"/>
<path d="M553.04 408.45L557.94 413.35L553.04 418.25L548.14 413.35Z" fill="none" stroke="#2f62ac" stroke-width="2.35"/>
<path d="M577.31 400.85L582.21 405.75L577.31 410.65L572.41 405.75Z" fill="none" stroke="#2f62ac" stroke-width="2.35"/>
<path d="M601.59 393.95L606.49 398.85L601.59 403.75L596.69 398.85Z" fill="none" stroke="#2f62ac" stroke-width="2.35"/>
<path d="M625.87 379.05L630.77 383.95L625.87 388.85L620.97 383.95Z" fill="none" stroke="#2f62ac" stroke-width="2.35"/>
<path d="M650.14 386.95L655.04 391.85L650.14 396.75L645.24 391.85Z" fill="none" stroke="#2f62ac" stroke-width="2.35"/>
<path d="M674.42 392.45L679.32 397.35L674.42 402.25L669.52 397.35Z" fill="none" stroke="#2f62ac" stroke-width="2.35"/>
<path d="M698.69 380.35L703.59 385.25L698.69 390.15L693.79 385.25Z" fill="none" stroke="#2f62ac" stroke-width="2.35"/>
<path d="M722.97 379.05L727.87 383.95L722.97 388.85L718.07 383.95Z" fill="none" stroke="#2f62ac" stroke-width="2.35"/>
<path d="M747.25 381.05L752.15 385.95L747.25 390.85L742.35 385.95Z" fill="none" stroke="#2f62ac" stroke-width="2.35"/>
<path d="M771.52 390.45L776.42 395.35L771.52 400.25L766.62 395.35Z" fill="none" stroke="#2f62ac" stroke-width="2.35"/>
<circle cx="67.52" cy="412.35" r="3.7" fill="#aa2d2d"/>
<circle cx="91.79" cy="413.65" r="3.7" fill="#aa2d2d"/>
<circle cx="116.07" cy="432.65" r="3.7" fill="#aa2d2d"/>
<circle cx="140.35" cy="416.85" r="3.7" fill="#aa2d2d"/>
<circle cx="164.62" cy="423.45" r="3.7" fill="#aa2d2d"/>
<circle cx="188.90" cy="426.65" r="3.7" fill="#aa2d2d"/>
<circle cx="213.17" cy="425.75" r="3.7" fill="#aa2d2d"/>
<circle cx="237.45" cy="432.65" r="3.7" fill="#aa2d2d"/>
<circle cx="261.73" cy="435.85" r="3.7" fill="#aa2d2d"/>
<circle cx="286.00" cy="447.15" r="3.7" fill="#aa2d2d"/>
<circle cx="310.28" cy="472.35" r="3.7" fill="#aa2d2d"/>
<circle cx="334.55" cy="472.35" r="3.7" fill="#aa2d2d"/>
<circle cx="358.83" cy="467.95" r="3.7" fill="#aa2d2d"/>
<circle cx="383.11" cy="474.05" r="3.7" fill="#aa2d2d"/>
<circle cx="407.38" cy="472.55" r="3.7" fill="#aa2d2d"/>
<circle cx="431.66" cy="405.75" r="3.7" fill="#aa2d2d"/>
<circle cx="455.93" cy="415.55" r="3.7" fill="#aa2d2d"/>
<circle cx="480.21" cy="414.35" r="3.7" fill="#aa2d2d"/>
<circle cx="504.49" cy="409.15" r="3.7" fill="#aa2d2d"/>
<circle cx="528.76" cy="410.45" r="3.7" fill="#aa2d2d"/>
<circle cx="553.04" cy="403.75" r="3.7" fill="#aa2d2d"/>
<circle cx="577.31" cy="398.05" r="3.7" fill="#aa2d2d"/>
<circle cx="601.59" cy="403.45" r="3.7" fill="#aa2d2d"/>
<circle cx="625.87" cy="383.95" r="3.7" fill="#aa2d2d"/>
<circle cx="650.14" cy="382.55" r="3.7" fill="#aa2d2d"/>
<circle cx="674.42" cy="397.35" r="3.7" fill="#aa2d2d"/>
<circle cx="698.69" cy="406.95" r="3.7" fill="#aa2d2d"/>
<circle cx="722.97" cy="414.35" r="3.7" fill="#aa2d2d"/>
<circle cx="747.25" cy="411.15" r="3.7" fill="#aa2d2d"/>
<circle cx="771.52" cy="412.35" r="3.7" fill="#aa2d2d"/>
<line x1="32" x2="56" y1="67.5" y2="67.5" stroke="#000" stroke-width="1.15"/>
<line x1="56" x2="802.9" y1="67.5" y2="67.5" stroke="#484848" stroke-width="1.15"/>
<rect x="32" y="308" width="1" height="1" fill="#000"/>
<rect x="802" y="308" width="1" height="1" fill="#000"/>
<text transform="translate(49.2,177.7) rotate(-90)" x="-16.40" y="0" font-size="13.6" textLength="32.80" lengthAdjust="spacingAndGlyphs" fill="#000">Retail</text>
<text transform="translate(49.3,416.7) rotate(-90)" x="-30.60" y="0" font-size="13.6" textLength="61.20" lengthAdjust="spacingAndGlyphs" fill="#000">Wholesale</text>
<circle cx="76.8" cy="560.0" r="3.95" fill="#aa2d2d"/>
<text x="90.55" y="563.80" font-size="12.8" textLength="21.20" lengthAdjust="spacingAndGlyphs" fill="#000" >AEs</text>
<path d="M178.90 554.90L184.00 560.00L178.90 565.10L173.80 560.00Z" fill="none" stroke="#2f62ac" stroke-width="2.4"/>
<text x="193.05" y="563.80" font-size="12.8" textLength="40.10" lengthAdjust="spacingAndGlyphs" fill="#000" >EMDEs</text>
<text x="32.65" y="594.90" font-size="12.9" textLength="45.20" lengthAdjust="spacingAndGlyphs" fill="#000" >Sources:</text>
<text x="81.35" y="594.90" font-size="12.9" textLength="17.90" lengthAdjust="spacingAndGlyphs" fill="#000" >BIS</text>
<text x="102.55" y="594.90" font-size="12.9" textLength="36.21" lengthAdjust="spacingAndGlyphs" fill="#000" >central</text>
<text x="143.45" y="594.90" font-size="12.9" textLength="25.88" lengthAdjust="spacingAndGlyphs" fill="#000" >bank</text>
<text x="173.35" y="594.90" font-size="12.9" textLength="40.00" lengthAdjust="spacingAndGlyphs" fill="#000" >surveys</text>
<text x="217.75" y="594.90" font-size="12.9" textLength="12.40" lengthAdjust="spacingAndGlyphs" fill="#000" >on</text>
<text x="234.71" y="594.90" font-size="12.9" textLength="36.98" lengthAdjust="spacingAndGlyphs" fill="#000" >CBDCs</text>
<text x="275.80" y="594.90" font-size="12.9" textLength="18.51" lengthAdjust="spacingAndGlyphs" fill="#000" >and</text>
<text x="299.25" y="594.90" font-size="12.9" textLength="35.80" lengthAdjust="spacingAndGlyphs" fill="#000" >crypto,</text>
<text x="340.55" y="594.90" font-size="12.9" textLength="48.10" lengthAdjust="spacingAndGlyphs" fill="#000" >2018–22.</text>
</svg>
</body></html>
